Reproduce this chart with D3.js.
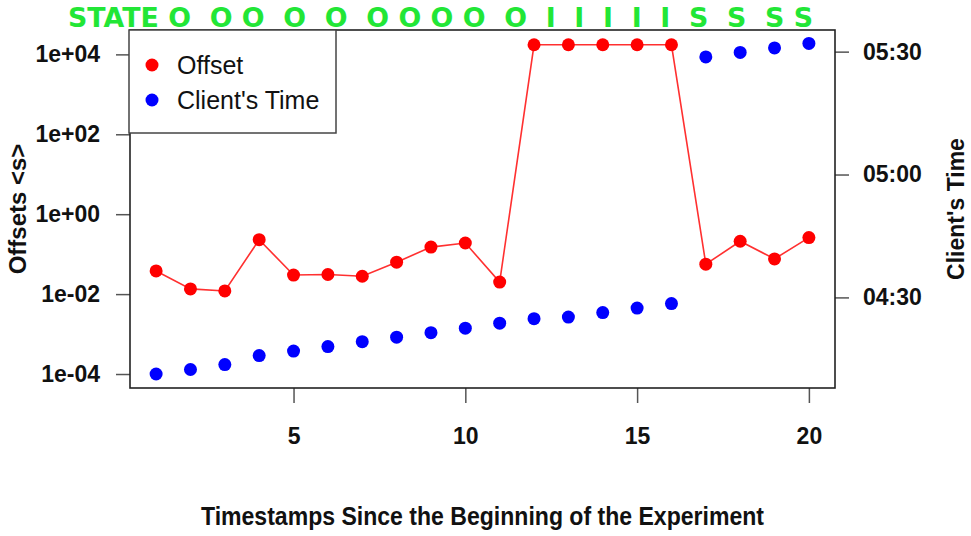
<!DOCTYPE html>
<html>
<head>
<meta charset="utf-8">
<script src="https://cdn.jsdelivr.net/npm/d3@7"></script>
<style>
  html, body { margin: 0; padding: 0; background: #fff; }
  svg { display: block; font-family: "Liberation Sans", Arial, sans-serif; }
</style>
</head>
<body>
<div id="chart"></div>
<script>
// timestamps since the beginning of the experiment
const timestamps = d3.range(1, 21);
// offset in seconds (log scale)
const offsets = [0.038, 0.0135, 0.012, 0.23, 0.030, 0.031, 0.028, 0.063, 0.15, 0.19,
                 0.020, 17400, 17400, 17400, 17400, 17400, 0.056, 0.21, 0.076, 0.26];
// client's clock reading
const clientTimes = ["04:11:18", "04:12:24", "04:13:36", "04:15:48", "04:16:54", "04:18:00",
                     "04:19:12", "04:20:18", "04:21:24", "04:22:30", "04:23:42", "04:24:48",
                     "04:25:12", "04:26:18", "04:27:24", "04:28:30", "05:28:42", "05:29:48",
                     "05:30:54", "05:32:00"];
const xTicks = [5, 10, 15, 20];
const offsetTicks = [1e-4, 1e-2, 1, 1e2, 1e4];
const timeTicks = ["04:30:00", "05:00:00", "05:30:00"];
const stateLine = "STATE O  O O  O  O  O O O O  O  I  I  I  I  I  S  S  S S";
const legendItems = [
  { label: "Offset", color: "#ff0000" },
  { label: "Client's Time", color: "#0000ff" }
];

const W = 971, H = 536;
const m = { left: 130, right: 835, top: 30, bottom: 388 };
const parseT = d3.timeParse("%H:%M:%S");

const x = d3.scaleLinear().domain([0.24, 20.76]).range([m.left, m.right]);
const yOff = d3.scaleLog().domain([Math.pow(10, -4.35), Math.pow(10, 4.61)]).range([m.bottom, m.top]);
const yTime = d3.scaleTime().domain([parseT("04:07:53"), parseT("05:35:17")]).range([m.bottom, m.top]);

const sciFmt = d => {
  const e = Math.round(Math.log10(d));
  return "1e" + (e < 0 ? "-" : "+") + String(Math.abs(e)).padStart(2, "0");
};

const svg = d3.select("#chart").append("svg")
  .attr("width", W).attr("height", H);

function styleAxis(g) {
  g.select(".domain").remove();
  g.selectAll(".tick line").attr("stroke", "#555").attr("stroke-width", 1.5);
  g.selectAll(".tick text")
    .attr("fill", "#111")
    .attr("font-size", 23)
    .attr("font-weight", "bold")
    .attr("font-family", "'Liberation Sans', Arial, sans-serif");
}

// x axis
svg.append("g")
  .attr("transform", `translate(0,${m.bottom})`)
  .call(d3.axisBottom(x).tickValues(xTicks).tickSize(15).tickPadding(25))
  .call(styleAxis);

// left axis
svg.append("g")
  .attr("transform", `translate(${m.left},0)`)
  .call(d3.axisLeft(yOff).tickValues(offsetTicks).tickFormat(sciFmt).tickSize(14).tickPadding(16))
  .call(styleAxis);

// right axis
svg.append("g")
  .attr("transform", `translate(${m.right},0)`)
  .call(d3.axisRight(yTime).tickValues(timeTicks.map(parseT)).tickFormat(d3.timeFormat("%H:%M")).tickSize(14).tickPadding(14))
  .call(styleAxis);

// red offset line + points
svg.append("path")
  .datum(timestamps)
  .attr("fill", "none")
  .attr("stroke", "#ff3030")
  .attr("stroke-width", 1.6)
  .attr("d", d3.line().x(d => x(d)).y((d, i) => yOff(offsets[i])));

svg.append("g").selectAll("circle")
  .data(timestamps)
  .join("circle")
  .attr("cx", d => x(d))
  .attr("cy", (d, i) => yOff(offsets[i]))
  .attr("r", 6.5)
  .attr("fill", "#ff0000");

// blue client time points
svg.append("g").selectAll("circle")
  .data(timestamps)
  .join("circle")
  .attr("cx", d => x(d))
  .attr("cy", (d, i) => yTime(parseT(clientTimes[i])))
  .attr("r", 6.5)
  .attr("fill", "#0000ff");

// plot box
svg.append("rect")
  .attr("x", m.left).attr("y", m.top)
  .attr("width", m.right - m.left).attr("height", m.bottom - m.top)
  .attr("fill", "none").attr("stroke", "#222").attr("stroke-width", 1.6);

// legend
const lg = svg.append("g").attr("transform", `translate(${m.left - 1},${m.top})`);
lg.append("rect")
  .attr("width", 207).attr("height", 103)
  .attr("fill", "#fff").attr("stroke", "#444").attr("stroke-width", 1.5);
legendItems.forEach((it, i) => {
  const cy = 35 + i * 35;
  lg.append("circle").attr("cx", 23).attr("cy", cy).attr("r", 6.5).attr("fill", it.color);
  lg.append("text").attr("x", 48).attr("y", cy).attr("dy", "0.35em")
    .attr("font-size", 25).attr("fill", "#111").text(it.label);
});

// state labels across the top
svg.append("text")
  .attr("x", 68).attr("y", 27)
  .attr("xml:space", "preserve")
  .style("white-space", "pre")
  .attr("font-family", "'DejaVu Sans', sans-serif")
  .attr("font-weight", "bold")
  .attr("font-size", 27)
  .attr("fill", "#22e636")
  .attr("textLength", 745)
  .attr("lengthAdjust", "spacingAndGlyphs")
  .text(stateLine);

// axis titles
svg.append("text")
  .attr("x", (m.left + m.right) / 2).attr("y", 525)
  .attr("text-anchor", "middle")
  .attr("font-size", 25).attr("font-weight", "bold").attr("fill", "#111")
  .attr("textLength", 563).attr("lengthAdjust", "spacingAndGlyphs")
  .text("Timestamps Since the Beginning of the Experiment");

svg.append("text")
  .attr("transform", `translate(26,${(m.top + m.bottom) / 2}) rotate(-90)`)
  .attr("text-anchor", "middle")
  .attr("font-size", 24).attr("font-weight", "bold").attr("fill", "#111")
  .text("Offsets <s>");

svg.append("text")
  .attr("transform", `translate(964,${(m.top + m.bottom) / 2}) rotate(-90)`)
  .attr("text-anchor", "middle")
  .attr("font-size", 23).attr("font-weight", "bold").attr("fill", "#111")
  .text("Client's Time");
</script>
</body>
</html>
